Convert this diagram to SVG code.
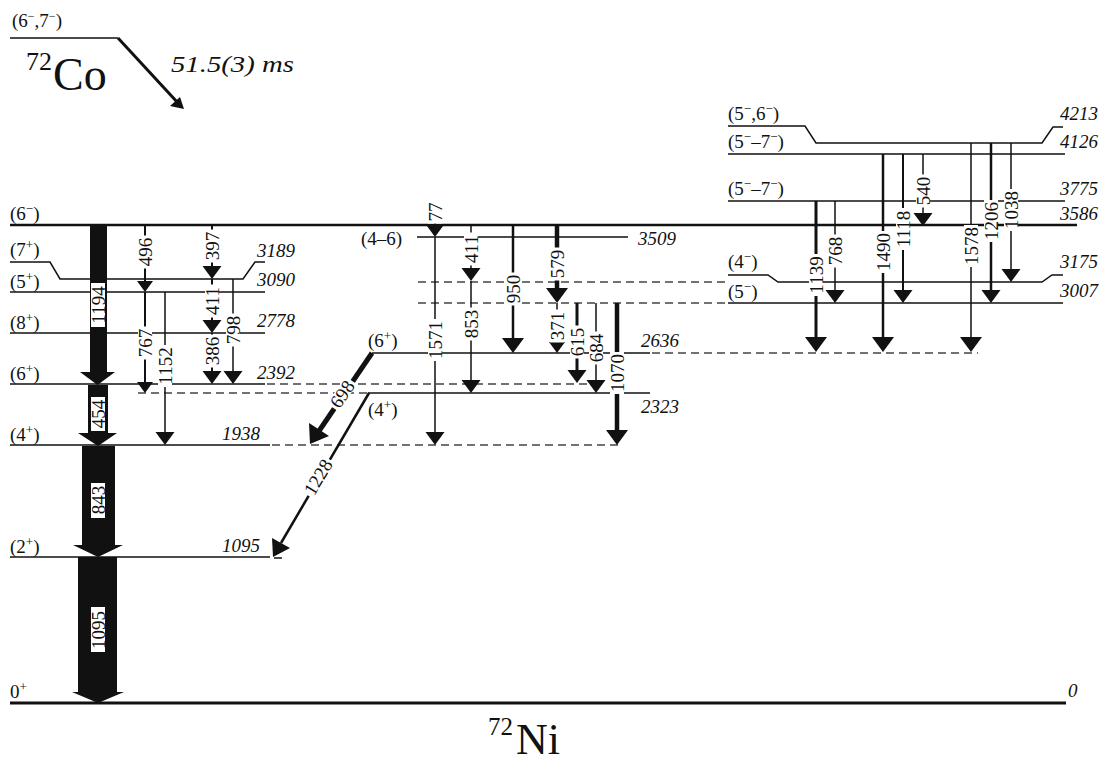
<svg xmlns="http://www.w3.org/2000/svg" xmlns:xlink="http://www.w3.org/1999/xlink" width="1103" height="763" viewBox="0 0 1103 763">
<style>
text{font-family:"Liberation Serif","Times New Roman",serif;fill:#111}
.lv{font-size:19px}
.en{font-size:19px;font-style:italic}
.tr{font-size:19px}
.bg{fill:#fff}
.lvl{stroke:#111;stroke-width:1.5;fill:none}
.dash{stroke:#444;stroke-width:1.3;stroke-dasharray:8 5;fill:none}
.g{stroke:#111;fill:none}
.hd{fill:#111}
.big{fill:#111}
</style>
<defs>
<path id="h" d="M-8,-11 L8,-11 L0,0 Z"/>
<path id="hm" d="M-9.5,-13 L9.5,-13 L0,0 Z"/>
<path id="hl" d="M-11,-15 L11,-15 L0,0 Z"/>
<rect id="b2" x="-11.5" y="-7" width="23" height="14"/>
<rect id="b3" x="-16.5" y="-7" width="33" height="14"/>
<rect id="b4" x="-21" y="-7" width="42" height="14"/>
</defs>

<!-- parent -->
<g id="parent-72Co">
<text class="lv" x="12" y="27" font-size="18">(6<tspan baseline-shift="super" font-size="12">−</tspan>,7<tspan baseline-shift="super" font-size="12">−</tspan>)</text>
<line class="lvl" x1="10" y1="38" x2="118" y2="38"/>
<text x="26" y="90" font-size="46"><tspan font-size="26" dy="-20">72</tspan><tspan dy="20" dx="1">Co</tspan></text>
<text transform="translate(171,72) scale(1.25,1)" font-size="23" font-style="italic">51.5(3) ms</text>
</g>

<!-- levels -->
<g id="lvl-0">
<line x1="10" y1="703" x2="1066" y2="703" stroke="#111" stroke-width="3"/>
<text class="lv" x="10" y="698">0<tspan baseline-shift="super" font-size="13">+</tspan></text>
<text class="en" x="1068" y="697">0</text>
</g>
<g id="lvl-1095">
<line class="lvl" x1="10" y1="557" x2="270" y2="557"/>
<line class="lvl" x1="274" y1="558" x2="282" y2="558"/>
<text class="lv" x="10" y="553">(2<tspan baseline-shift="super" font-size="13">+</tspan>)</text>
<text class="en" x="222" y="552">1095</text>
</g>
<g id="lvl-1938">
<line class="lvl" x1="10" y1="445" x2="270" y2="445"/>
<line class="dash" x1="272" y1="445" x2="622" y2="445"/>
<text class="lv" x="10" y="441">(4<tspan baseline-shift="super" font-size="13">+</tspan>)</text>
<text class="en" x="222" y="440">1938</text>
</g>
<g id="lvl-2323">
<line class="dash" x1="138" y1="393" x2="368" y2="393"/>
<line class="lvl" x1="368" y1="393" x2="650" y2="393"/>
<text class="lv" x="368" y="416">(4<tspan baseline-shift="super" font-size="13">+</tspan>)</text>
<text class="en" x="641" y="413">2323</text>
</g>
<g id="lvl-2392">
<line class="lvl" x1="10" y1="384" x2="265" y2="384"/>
<line class="dash" x1="267" y1="384" x2="592" y2="384"/>
<text class="lv" x="10" y="380">(6<tspan baseline-shift="super" font-size="13">+</tspan>)</text>
<text class="en" x="257" y="379">2392</text>
</g>
<g id="lvl-2636">
<line class="lvl" x1="372" y1="353" x2="650" y2="353"/>
<line class="dash" x1="652" y1="353" x2="978" y2="353"/>
<text class="lv" x="368" y="347">(6<tspan baseline-shift="super" font-size="13">+</tspan>)</text>
<text class="en" x="641" y="347">2636</text>
</g>
<g id="lvl-2778">
<line class="lvl" x1="10" y1="333" x2="265" y2="333"/>
<text class="lv" x="10" y="329">(8<tspan baseline-shift="super" font-size="13">+</tspan>)</text>
<text class="en" x="257" y="327">2778</text>
</g>
<g id="lvl-3007">
<line class="dash" x1="418" y1="303" x2="728" y2="303"/>
<line class="lvl" x1="728" y1="303" x2="1063" y2="303"/>
<text class="lv" x="728" y="298">(5<tspan baseline-shift="super" font-size="13">−</tspan>)</text>
<text class="en" x="1098" y="297" text-anchor="end">3007</text>
</g>
<g id="lvl-3090">
<line class="lvl" x1="10" y1="292" x2="265" y2="292"/>
<text class="lv" x="10" y="288">(5<tspan baseline-shift="super" font-size="13">+</tspan>)</text>
<text class="en" x="257" y="286">3090</text>
</g>
<g id="lvl-3175">
<line class="dash" x1="418" y1="282" x2="726" y2="282"/>
<path class="lvl" d="M728,275 H768 L778,282 H1042 L1052,275 H1063"/>
<text class="lv" x="728" y="268">(4<tspan baseline-shift="super" font-size="13">−</tspan>)</text>
<text class="en" x="1098" y="268" text-anchor="end">3175</text>
</g>
<g id="lvl-3189">
<path class="lvl" d="M10,262 H50 L60,279 H243 L255,262 H265"/>
<text class="lv" x="10" y="256">(7<tspan baseline-shift="super" font-size="13">+</tspan>)</text>
<text class="en" x="257" y="257">3189</text>
</g>
<g id="lvl-3509">
<line class="lvl" x1="417" y1="237" x2="628" y2="237"/>
<text class="lv" x="361" y="245">(4–6)</text>
<text class="en" x="638" y="245">3509</text>
</g>
<g id="lvl-3586">
<line x1="10" y1="225" x2="1077" y2="225" stroke="#111" stroke-width="2.5"/>
<text class="lv" x="10" y="220">(6<tspan baseline-shift="super" font-size="13">−</tspan>)</text>
<text class="en" x="1098" y="220" text-anchor="end">3586</text>
</g>
<g id="lvl-3775">
<line class="lvl" x1="728" y1="201" x2="1065" y2="201"/>
<text class="lv" x="728" y="195">(5<tspan baseline-shift="super" font-size="13">−</tspan>–7<tspan baseline-shift="super" font-size="13">−</tspan>)</text>
<text class="en" x="1098" y="195" text-anchor="end">3775</text>
</g>
<g id="lvl-4126">
<line class="lvl" x1="728" y1="154" x2="1065" y2="154"/>
<text class="lv" x="728" y="148">(5<tspan baseline-shift="super" font-size="13">−</tspan>–7<tspan baseline-shift="super" font-size="13">−</tspan>)</text>
<text class="en" x="1098" y="148" text-anchor="end">4126</text>
</g>
<g id="lvl-4213">
<path class="lvl" d="M728,126 H805 L816,143 H1042 L1053,127 H1063"/>
<text class="lv" x="728" y="120">(5<tspan baseline-shift="super" font-size="13">−</tspan>,6<tspan baseline-shift="super" font-size="13">−</tspan>)</text>
<text class="en" x="1098" y="120" text-anchor="end">4213</text>
</g>

<!-- transitions -->
<g id="transitions">
<!-- beta decay arrow -->
<line class="g" x1="118" y1="38" x2="178" y2="103" stroke-width="3"/>
<path class="hd" d="M184,109 L170,106 L180,97 Z"/>

<!-- big cascade -->
<polygon class="big" points="90,226 107,226 107,372 115,372 97.5,385 80,372 90,372"/>
<rect class="bg" x="91" y="283" width="14" height="44"/>
<text class="tr" transform="translate(98,305) rotate(-90)" text-anchor="middle" dy="0.35em">1194</text>
<polygon class="big" points="88,385 108,385 108,433 117,433 98,446 78,433 88,433"/>
<rect class="bg" x="91" y="397" width="14" height="34"/>
<text class="tr" transform="translate(98,414) rotate(-90)" text-anchor="middle" dy="0.35em">454</text>
<polygon class="big" points="82,446 115,446 115,545 123,545 98,557 73,545 82,545"/>
<rect class="bg" x="91" y="483" width="14" height="35"/>
<text class="tr" transform="translate(98,500) rotate(-90)" text-anchor="middle" dy="0.35em">843</text>
<polygon class="big" points="78,557 117,557 117,692 124,692 98,703 72,692 78,692"/>
<rect class="bg" x="91" y="607" width="14" height="45"/>
<text class="tr" transform="translate(98,630) rotate(-90)" text-anchor="middle" dy="0.35em">1095</text>

<!-- left column -->
<g id="t496"><line class="g" stroke-width="2" x1="145" y1="225" x2="145" y2="283"/><use href="#h" class="hd" x="145" y="292"/>
<g transform="translate(145,252) rotate(-90)"><use href="#b3" class="bg"/><text class="tr" text-anchor="middle" dy="0.35em">496</text></g></g>
<g id="t767"><line class="g" stroke-width="2" x1="145" y1="292" x2="145" y2="384"/><use href="#h" class="hd" x="145" y="393"/>
<g transform="translate(145,343) rotate(-90)"><use href="#b3" class="bg"/><text class="tr" text-anchor="middle" dy="0.35em">767</text></g></g>
<g id="t1152"><line class="g" stroke-width="1.5" x1="165" y1="292" x2="165" y2="436"/><use href="#hm" class="hd" x="165" y="445"/>
<g transform="translate(165,366) rotate(-90)"><use href="#b4" class="bg"/><text class="tr" text-anchor="middle" dy="0.35em">1152</text></g></g>
<g id="t397"><line class="g" stroke-width="2" x1="212" y1="225" x2="212" y2="270"/><use href="#hm" class="hd" x="212" y="279"/>
<g transform="translate(212,246) rotate(-90)"><use href="#b3" class="bg"/><text class="tr" text-anchor="middle" dy="0.35em">397</text></g></g>
<g id="t411a"><line class="g" stroke-width="2" x1="212" y1="279" x2="212" y2="324"/><use href="#hm" class="hd" x="212" y="333"/>
<g transform="translate(212,301) rotate(-90)"><use href="#b3" class="bg"/><text class="tr" text-anchor="middle" dy="0.35em">411</text></g></g>
<g id="t386"><line class="g" stroke-width="2" x1="212" y1="333" x2="212" y2="375"/><use href="#hm" class="hd" x="212" y="384"/>
<g transform="translate(212,351) rotate(-90)"><use href="#b3" class="bg"/><text class="tr" text-anchor="middle" dy="0.35em">386</text></g></g>
<g id="t798"><line class="g" stroke-width="1.5" x1="233" y1="279" x2="233" y2="375"/><use href="#hm" class="hd" x="233" y="384"/>
<g transform="translate(233,330) rotate(-90)"><use href="#b3" class="bg"/><text class="tr" text-anchor="middle" dy="0.35em">798</text></g></g>

<!-- middle column -->
<g id="t77"><line class="g" stroke-width="1.5" x1="435" y1="205" x2="435" y2="230"/><use href="#hm" class="hd" x="435" y="237"/>
<g transform="translate(435,212) rotate(-90)"><use href="#b2" class="bg"/><text class="tr" text-anchor="middle" dy="0.35em">77</text></g></g>
<g id="t1571"><line class="g" stroke-width="1.5" x1="435" y1="237" x2="435" y2="436"/><use href="#hm" class="hd" x="435" y="445"/>
<g transform="translate(435,340) rotate(-90)"><use href="#b4" class="bg"/><text class="tr" text-anchor="middle" dy="0.35em">1571</text></g></g>
<g id="t411b"><line class="g" stroke-width="1.5" x1="471" y1="225" x2="471" y2="272"/><use href="#hm" class="hd" x="471" y="281"/>
<g transform="translate(471,249) rotate(-90)"><use href="#b3" class="bg"/><text class="tr" text-anchor="middle" dy="0.35em">411</text></g></g>
<g id="t853"><line class="g" stroke-width="1.5" x1="471" y1="281" x2="471" y2="384"/><use href="#hm" class="hd" x="471" y="393"/>
<g transform="translate(471,324) rotate(-90)"><use href="#b3" class="bg"/><text class="tr" text-anchor="middle" dy="0.35em">853</text></g></g>
<g id="t950"><line class="g" stroke-width="2.5" x1="513" y1="225" x2="513" y2="343"/><use href="#hl" class="hd" x="513" y="353"/>
<g transform="translate(513,289) rotate(-90)"><use href="#b3" class="bg"/><text class="tr" text-anchor="middle" dy="0.35em">950</text></g></g>
<g id="t579"><line class="g" stroke-width="4.5" x1="557" y1="225" x2="557" y2="292"/><use href="#hl" class="hd" x="557" y="303"/>
<g transform="translate(557,264) rotate(-90)"><use href="#b3" class="bg"/><text class="tr" text-anchor="middle" dy="0.35em">579</text></g></g>
<g id="t371"><line class="g" stroke-width="1.5" x1="557" y1="303" x2="557" y2="345"/><use href="#h" class="hd" x="557" y="353"/>
<g transform="translate(557,326) rotate(-90)"><use href="#b3" class="bg"/><text class="tr" text-anchor="middle" dy="0.35em">371</text></g></g>
<g id="t615"><line class="g" stroke-width="3" x1="577" y1="303" x2="577" y2="374"/><use href="#hm" class="hd" x="577" y="383"/>
<g transform="translate(577,342) rotate(-90)"><use href="#b3" class="bg"/><text class="tr" text-anchor="middle" dy="0.35em">615</text></g></g>
<g id="t684"><line class="g" stroke-width="1.5" x1="596" y1="303" x2="596" y2="384"/><use href="#hm" class="hd" x="596" y="393"/>
<g transform="translate(596,348) rotate(-90)"><use href="#b3" class="bg"/><text class="tr" text-anchor="middle" dy="0.35em">684</text></g></g>
<g id="t1070"><line class="g" stroke-width="4.5" x1="617" y1="303" x2="617" y2="434"/><use href="#hl" class="hd" x="617" y="445"/>
<g transform="translate(617,373) rotate(-90)"><use href="#b4" class="bg"/><text class="tr" text-anchor="middle" dy="0.35em">1070</text></g></g>
<g id="t698"><line class="g" stroke-width="5" x1="372" y1="353" x2="319" y2="431"/>
<path class="hd" d="M310,444 L329,436 L309,423 Z"/>
<g transform="translate(342,394) rotate(-56)"><use href="#b3" class="bg"/><text class="tr" text-anchor="middle" dy="0.35em">698</text></g></g>
<g id="t1228"><line class="g" stroke-width="2.5" x1="369" y1="393" x2="281" y2="543"/>
<path class="hd" d="M273,557 L290,548 L272,538 Z"/>
<g transform="translate(318,477) rotate(-59)"><use href="#b4" class="bg"/><text class="tr" text-anchor="middle" dy="0.35em">1228</text></g></g>

<!-- right column -->
<g id="t1139"><line class="g" stroke-width="3" x1="816" y1="201" x2="816" y2="341"/><use href="#hl" class="hd" x="816" y="352"/>
<g transform="translate(816,275) rotate(-90)"><use href="#b4" class="bg"/><text class="tr" text-anchor="middle" dy="0.35em">1139</text></g></g>
<g id="t768"><line class="g" stroke-width="1.5" x1="835" y1="201" x2="835" y2="294"/><use href="#hm" class="hd" x="835" y="303"/>
<g transform="translate(835,251) rotate(-90)"><use href="#b3" class="bg"/><text class="tr" text-anchor="middle" dy="0.35em">768</text></g></g>
<g id="t1490"><line class="g" stroke-width="2.5" x1="883" y1="154" x2="883" y2="341"/><use href="#hl" class="hd" x="883" y="352"/>
<g transform="translate(883,252) rotate(-90)"><use href="#b4" class="bg"/><text class="tr" text-anchor="middle" dy="0.35em">1490</text></g></g>
<g id="t1118"><line class="g" stroke-width="2" x1="903" y1="154" x2="903" y2="294"/><use href="#hm" class="hd" x="903" y="303"/>
<g transform="translate(903,229) rotate(-90)"><use href="#b4" class="bg"/><text class="tr" text-anchor="middle" dy="0.35em">1118</text></g></g>
<g id="t540"><line class="g" stroke-width="1.5" x1="923" y1="154" x2="923" y2="217"/><use href="#hm" class="hd" x="923" y="226"/>
<g transform="translate(923,191) rotate(-90)"><use href="#b3" class="bg"/><text class="tr" text-anchor="middle" dy="0.35em">540</text></g></g>
<g id="t1578"><line class="g" stroke-width="1.5" x1="971" y1="143" x2="971" y2="341"/><use href="#hl" class="hd" x="971" y="352"/>
<g transform="translate(971,246) rotate(-90)"><use href="#b4" class="bg"/><text class="tr" text-anchor="middle" dy="0.35em">1578</text></g></g>
<g id="t1206"><line class="g" stroke-width="2.5" x1="991" y1="143" x2="991" y2="294"/><use href="#hm" class="hd" x="991" y="303"/>
<g transform="translate(991,221) rotate(-90)"><use href="#b4" class="bg"/><text class="tr" text-anchor="middle" dy="0.35em">1206</text></g></g>
<g id="t1038"><line class="g" stroke-width="1.5" x1="1011" y1="143" x2="1011" y2="273"/><use href="#hm" class="hd" x="1011" y="282"/>
<g transform="translate(1011,210) rotate(-90)"><use href="#b4" class="bg"/><text class="tr" text-anchor="middle" dy="0.35em">1038</text></g></g>
</g>

<g id="daughter-72Ni">
<text x="488" y="754" font-size="44"><tspan font-size="25" dy="-19">72</tspan><tspan dy="19" dx="3">Ni</tspan></text>
</g>
</svg>
